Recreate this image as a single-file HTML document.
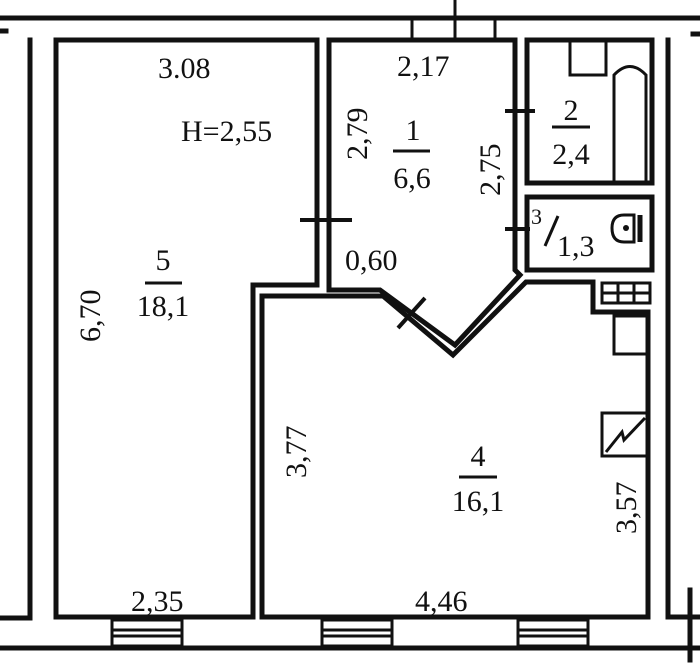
<!DOCTYPE html>
<html><head><meta charset="utf-8"><style>
html,body{margin:0;padding:0;background:#fff;}
svg{display:block}
text{font-family:"Liberation Serif",serif;fill:#111;}
</style></head><body>
<svg width="700" height="669" viewBox="0 0 700 669" xmlns="http://www.w3.org/2000/svg">
<g stroke="#111" fill="none" stroke-width="5" stroke-linecap="square">
<line x1="0" y1="18" x2="700" y2="18"/>
<line x1="0" y1="31" x2="6" y2="31"/>
<polyline points="30,40 30,618 0,618"/>
<polyline points="56,40 317,40 317,285 253,285 253,617 56,617 56,40"/>
<polyline points="329,40 515,40 515,270 520,275 455,345 380,290 329,290 329,40"/>
<polyline points="262,617 262,296 383,296 453,355 526,282 593,282 593,312 648,312 648,617 262,617"/>
<rect x="527" y="40" width="125" height="143"/>
<rect x="527" y="197" width="125" height="73"/>
<polyline points="668,40 668,617 700,617"/>
<line x1="693" y1="34" x2="700" y2="34"/>
<line x1="690" y1="590" x2="690" y2="660"/>
<line x1="0" y1="648" x2="700" y2="648"/>
</g>
<g stroke="#111" stroke-width="3" fill="none">
<line x1="412" y1="18" x2="412" y2="40"/>
<line x1="495" y1="18" x2="495" y2="40"/>
<line x1="455" y1="0" x2="455" y2="40"/>
<rect x="112" y="620" width="70" height="26"/>
<line x1="112" y1="630" x2="182" y2="630"/><line x1="112" y1="636" x2="182" y2="636"/>
<rect x="322" y="620" width="70" height="26"/>
<line x1="322" y1="630" x2="392" y2="630"/><line x1="322" y1="636" x2="392" y2="636"/>
<rect x="518" y="620" width="70" height="26"/>
<line x1="518" y1="630" x2="588" y2="630"/><line x1="518" y1="636" x2="588" y2="636"/>
<line x1="300" y1="220" x2="352" y2="220" stroke-width="4"/>
<line x1="505" y1="111" x2="535" y2="111" stroke-width="4"/>
<line x1="505" y1="229" x2="530" y2="229" stroke-width="4"/>
<line x1="398" y1="328" x2="425" y2="298" stroke-width="4"/>
<rect x="570" y="40" width="36" height="35"/>
<path d="M614 183 L614 75 Q630 58 646 75 L646 183"/>
<path d="M612 228 Q612 215 624 215 L634 215 L634 242 L624 242 Q612 242 612 228 Z"/>
<line x1="640" y1="215" x2="640" y2="242" stroke-width="5"/>
<rect x="602" y="283" width="48" height="20"/>
<line x1="618" y1="283" x2="618" y2="303"/><line x1="634" y1="283" x2="634" y2="303"/>
<line x1="602" y1="293" x2="650" y2="293"/>
<rect x="614" y="316" width="34" height="38"/>
<rect x="602" y="413" width="45" height="43"/>
<path d="M606 452 L622 432 L624 440 L645 418" />
</g>
<circle cx="626" cy="228" r="3" fill="#111"/>
<g font-size="30">
<text x="158" y="78">3.08</text>
<text x="181" y="141">H=2,55</text>
<text x="397" y="76">2,17</text>
<text x="345" y="270">0,60</text>
<text x="413" y="140" text-anchor="middle">1</text>
<line x1="393" y1="151" x2="430" y2="151" stroke="#111" stroke-width="3"/>
<text x="412" y="188" text-anchor="middle">6,6</text>
<text x="571" y="120" text-anchor="middle">2</text>
<line x1="552" y1="127" x2="590" y2="127" stroke="#111" stroke-width="3"/>
<text x="571" y="164" text-anchor="middle">2,4</text>
<text x="531" y="224" font-size="22">3</text>
<line x1="545" y1="246" x2="558" y2="216" stroke="#111" stroke-width="3"/>
<text x="557" y="256">1,3</text>
<text x="163" y="270" text-anchor="middle">5</text>
<line x1="145" y1="283" x2="182" y2="283" stroke="#111" stroke-width="3"/>
<text x="163" y="316" text-anchor="middle">18,1</text>
<text x="478" y="466" text-anchor="middle">4</text>
<line x1="459" y1="477" x2="497" y2="477" stroke="#111" stroke-width="3"/>
<text x="478" y="511" text-anchor="middle">16,1</text>
<text x="131" y="611">2,35</text>
<text x="415" y="611">4,46</text>
<text transform="translate(367,160) rotate(-90)">2,79</text>
<text transform="translate(500,196) rotate(-90)">2,75</text>
<text transform="translate(100,342) rotate(-90)">6,70</text>
<text transform="translate(306,478) rotate(-90)">3,77</text>
<text transform="translate(636,534) rotate(-90)">3,57</text>
</g>
</svg>
</body></html>
